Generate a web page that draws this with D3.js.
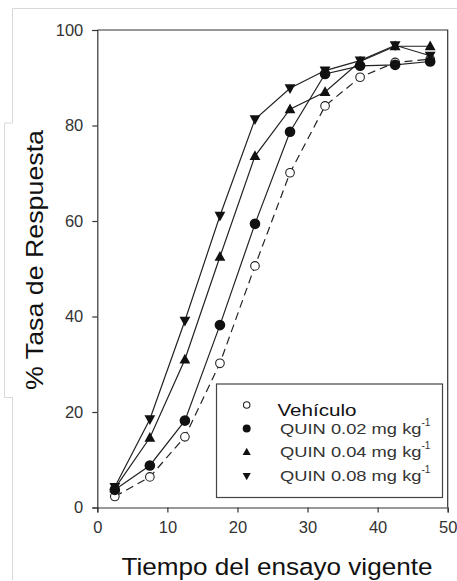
<!DOCTYPE html>
<html><head><meta charset="utf-8">
<script src="https://cdn.jsdelivr.net/npm/d3@7"></script>
<style>body{margin:0;background:#fff}svg{display:block;font-family:"Liberation Sans",Arial,sans-serif}</style>
</head><body>
<script>
const tiempo = [2.5, 7.5, 12.5, 17.5, 22.5, 27.5, 32.5, 37.5, 42.5, 47.5];
const vehiculo = [2.3, 6.4, 14.8, 30.2, 50.6, 70.1, 84.1, 90.1, 93.2, 93.9];
const quin002 = [3.7, 8.8, 18.2, 38.2, 59.4, 78.7, 90.8, 92.5, 92.7, 93.4];
const quin004 = [4.0, 14.6, 31.0, 52.5, 73.6, 83.4, 87.0, 93.4, 96.6, 96.6];
const quin008 = [4.3, 18.5, 39.1, 61.1, 81.3, 87.8, 91.5, 93.6, 96.8, 94.6];
const seriesNames = ["Vehículo", "QUIN 0.02 mg kg", "QUIN 0.04 mg kg", "QUIN 0.08 mg kg"];
const xTicks = [0, 10, 20, 30, 40, 50];
const yTicks = [0, 20, 40, 60, 80, 100];

const W = 457, H = 581;
const svg = d3.select("body").append("svg").attr("width", W).attr("height", H);

// faint border artifacts of the source image
const g0 = svg.append("g").attr("stroke", "#d8d8d8").attr("fill", "none").attr("stroke-width", 1);
g0.append("path").attr("d", "M12.5,123 V8.5 H457");
g0.append("path").attr("d", "M12.5,123 H4.5 V397.5 H12.5 V580");

const x = d3.scaleLinear().domain([0, 50]).range([97.3, 447.7]);
const y = d3.scaleLinear().domain([0, 100]).range([507.5, 30]);

// frame (top & right)
svg.append("path").attr("d", `M${x(0)},${y(100)} H${x(50)} V${y(0)}`)
  .attr("fill", "none").attr("stroke", "#333").attr("stroke-width", 1.2);

const xAxis = svg.append("g").attr("transform", `translate(0,${y(0)})`)
  .call(d3.axisBottom(x).tickValues(xTicks).tickSize(5).tickPadding(8).tickFormat(d3.format("d")));
const yAxis = svg.append("g").attr("transform", `translate(${x(0)},0)`)
  .call(d3.axisLeft(y).tickValues(yTicks).tickSize(5).tickPadding(9).tickFormat(d3.format("d")));
[xAxis, yAxis].forEach(a => {
  a.select(".domain").attr("stroke", "#333").attr("stroke-width", 1.2);
  a.selectAll(".tick line").attr("stroke", "#333").attr("stroke-width", 1.2);
  a.selectAll("text").attr("fill", "#333").style("font-size", "16.5px").attr("font-family", "Liberation Sans, Arial, sans-serif");
});
xAxis.selectAll("text").attr("dy", "0.75em");

const series = [
  {vals: vehiculo, sym: "open", dash: "8,5"},
  {vals: quin002, sym: "circle", dash: null},
  {vals: quin004, sym: "up", dash: null},
  {vals: quin008, sym: "down", dash: null}
];

// size params: [circle radius / triangle half-width]
function drawSym(g, sym, cx, cy, k) {
  if (sym === "open") g.append("circle").attr("cx", cx).attr("cy", cy).attr("r", 4.3 * k).attr("fill", "#fff").attr("stroke", "#222").attr("stroke-width", 1.1);
  else if (sym === "circle") g.append("circle").attr("cx", cx).attr("cy", cy).attr("r", 5.3 * k).attr("fill", "#111");
  else {
    const hw = 5.4 * k, up = 5.8 * k, dn = 4.0 * k;
    const d = sym === "up"
      ? `M0,${-up} L${hw},${dn} L${-hw},${dn}Z`
      : `M0,${up} L${hw},${-dn} L${-hw},${-dn}Z`;
    g.append("path").attr("transform", `translate(${cx},${cy})`).attr("d", d).attr("fill", "#111");
  }
}

const line = d3.line().x((d, i) => x(tiempo[i])).y(d => y(d));
const gl = svg.append("g");
series.forEach(s => {
  gl.append("path").attr("d", line(s.vals)).attr("fill", "none").attr("stroke", "#222")
    .attr("stroke-width", 1.2).attr("stroke-dasharray", s.dash);
});
const gm = svg.append("g");
series.forEach(s => {
  s.vals.forEach((v, i) => drawSym(gm, s.sym, x(tiempo[i]), y(v), 1));
});

// legend
const lg = svg.append("g");
lg.append("rect").attr("x", 216.5).attr("y", 384).attr("width", 226).attr("height", 113.5)
  .attr("fill", "#fff").attr("stroke", "#444").attr("stroke-width", 1.2);
const legY = [405, 428.5, 452, 476];
series.forEach((s, i) => {
  drawSym(lg, s.sym, 246.7, legY[i], 0.75);
});
lg.append("text").attr("x", 277.5).attr("y", 416).attr("fill", "#111")
  .style("font-size", "16.5px").attr("textLength", 79).attr("lengthAdjust", "spacingAndGlyphs").text(seriesNames[0]);
[1, 2, 3].forEach(i => {
  const t = lg.append("text").attr("x", 280).attr("y", legY[i] + 5.3).attr("fill", "#333").style("font-size", "15px");
  t.append("tspan").attr("textLength", 141.5).attr("lengthAdjust", "spacingAndGlyphs").text(seriesNames[i]);
  t.append("tspan").attr("dy", -8).style("font-size", "10px").text("-1");
});

// axis titles
svg.append("text").attr("x", 277).attr("y", 574.5).attr("text-anchor", "middle").attr("fill", "#111")
  .style("font-size", "24.5px").attr("textLength", 311).attr("lengthAdjust", "spacingAndGlyphs")
  .text("Tiempo del ensayo vigente");
svg.append("text").attr("transform", "translate(42.5,260) rotate(-90)").attr("text-anchor", "middle").attr("fill", "#111")
  .style("font-size", "24px").attr("textLength", 260).attr("lengthAdjust", "spacingAndGlyphs")
  .text("% Tasa de Respuesta");
</script>
</body></html>
